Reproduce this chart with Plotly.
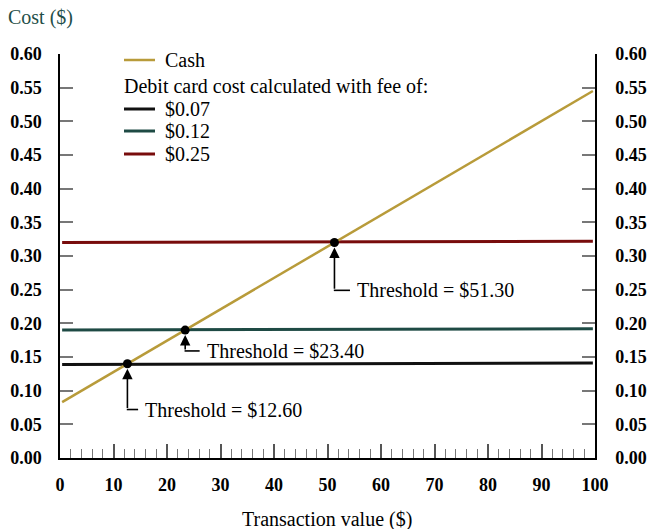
import plotly.graph_objects as go

# ---------------- data ----------------
line_x = [0.4, 99.6]
cash_cost = [0.083, 0.545]
debit_fee_labels = ["$0.07", "$0.12", "$0.25"]
debit_cost_007 = [0.139, 0.141]
debit_cost_012 = [0.190, 0.192]
debit_cost_025 = [0.320, 0.322]
threshold_x = [12.6, 23.4, 51.3]
threshold_y = [0.14, 0.19, 0.32]
threshold_labels = ["Threshold = $12.60", "Threshold = $23.40", "Threshold = $51.30"]
y_ticks = [0.0, 0.05, 0.10, 0.15, 0.20, 0.25, 0.30, 0.35, 0.40, 0.45, 0.50, 0.55, 0.60]
y_tick_text = ["0.00", "0.05", "0.10", "0.15", "0.20", "0.25", "0.30", "0.35", "0.40", "0.45", "0.50", "0.55", "0.60"]
x_ticks = [0, 10, 20, 30, 40, 50, 60, 70, 80, 90, 100]

# ---------------- style ----------------
W, H = 648, 529
ML, MR, MT, MB = 60, 53, 54, 71
FONT = "Liberation Serif"
C_CASH = "#b89b3a"
C_007 = "#111111"
C_012 = "#1e4a44"
C_025 = "#780c0c"
C_TITLE = "#1f4f49"
TXT = 20

def px_x(p):
    return (p - ML) / (W - ML - MR)

def px_y(p):
    return (H - MB - p) / (H - MT - MB)

fig = go.Figure()

debit_series = [debit_cost_007, debit_cost_012, debit_cost_025]
debit_colors = [C_007, C_012, C_025]
for lab, ys, col in zip(debit_fee_labels, debit_series, debit_colors):
    fig.add_trace(go.Scatter(x=line_x, y=ys, mode="lines", name=lab,
                             line=dict(color=col, width=3), showlegend=False))
fig.add_trace(go.Scatter(x=line_x, y=cash_cost, mode="lines", name="Cash",
                         line=dict(color=C_CASH, width=2.5), showlegend=False))
fig.add_trace(go.Scatter(x=threshold_x, y=threshold_y, mode="markers",
                         marker=dict(color="black", size=9), showlegend=False))
# invisible trace to activate right axis
fig.add_trace(go.Scatter(x=line_x, y=cash_cost, yaxis="y2", mode="lines",
                         line=dict(width=0), opacity=0, showlegend=False, hoverinfo="skip"))

# threshold annotation geometry (offsets, in data units)
arrow_drop = [0.068, 0.031, 0.071]
elbow_dx = [2.0, 2.7, 2.9]
text_gap = 1.0
for tx, ty, lab, dy, dx in zip(threshold_x, threshold_y, threshold_labels, arrow_drop, elbow_dx):
    low = ty - dy
    fig.add_annotation(x=tx, y=ty, ax=tx, ay=low, xref="x", yref="y", axref="x", ayref="y",
                       showarrow=True, arrowhead=2, arrowsize=1.3, arrowwidth=1.6,
                       arrowcolor="black", standoff=5, text="")
    fig.add_shape(type="line", xref="x", yref="y", x0=tx - 0.12, x1=tx + dx, y0=low, y1=low,
                  line=dict(color="black", width=1.6))
    fig.add_annotation(x=tx + dx + text_gap, y=low, xref="x", yref="y", text=lab,
                       showarrow=False, xanchor="left", yanchor="middle",
                       font=dict(family=FONT, size=TXT, color="black"))

# manual legend
legend_rows = [("Cash", C_CASH, 60), (None, None, 86),
               (debit_fee_labels[0], C_007, 109), (debit_fee_labels[1], C_012, 131),
               (debit_fee_labels[2], C_025, 154)]
for lab, col, py in legend_rows:
    if lab is None:
        fig.add_annotation(x=px_x(122), y=px_y(py), xref="paper", yref="paper",
                           text="Debit card cost calculated with fee of:", showarrow=False,
                           xanchor="left", yanchor="middle",
                           font=dict(family=FONT, size=TXT, color="black"))
        continue
    fig.add_shape(type="line", xref="paper", yref="paper", x0=px_x(124), x1=px_x(155),
                  y0=px_y(py), y1=px_y(py), line=dict(color=col, width=3 if col != C_CASH else 2.5))
    fig.add_annotation(x=px_x(163), y=px_y(py), xref="paper", yref="paper", text=lab,
                       showarrow=False, xanchor="left", yanchor="middle",
                       font=dict(family=FONT, size=TXT, color="black"))

# axis titles
fig.add_annotation(x=px_x(6), y=px_y(18), xref="paper", yref="paper", text="Cost ($)",
                   showarrow=False, xanchor="left", yanchor="middle",
                   font=dict(family=FONT, size=TXT, color=C_TITLE))
fig.add_annotation(x=px_x(327), y=px_y(519), xref="paper", yref="paper",
                   text="Transaction value ($)", showarrow=False, xanchor="center", yanchor="middle",
                   font=dict(family=FONT, size=TXT, color="black"))

tickfont = dict(family=FONT, size=18, color="black", weight="bold")
yax_common = dict(range=[0, 0.6], tickvals=y_ticks, ticktext=y_tick_text, ticks="inside",
                  ticklen=13, tickwidth=1.5, tickcolor="#777777", showline=True,
                  linecolor="black", linewidth=1.5, showgrid=False, zeroline=False,
                  tickfont=tickfont, fixedrange=True, automargin=False)

fig.update_layout(
    width=W, height=H,
    margin=dict(l=ML, r=MR, t=MT, b=MB, pad=0, autoexpand=False),
    paper_bgcolor="white", plot_bgcolor="white",
    showlegend=False,
    font=dict(family=FONT, color="black"),
    xaxis=dict(range=[0, 100], tickvals=x_ticks, ticks="inside", ticklen=14, tickwidth=1.5,
               tickcolor="#555555", showline=True, linecolor="black", linewidth=1.5,
               showgrid=False, zeroline=False, tickfont=tickfont, ticklabelstandoff=10,
               automargin=False, fixedrange=True,
               minor=dict(dtick=2, ticks="inside", ticklen=9, tickwidth=1.2,
                          tickcolor="#777777", showgrid=False)),
    yaxis=dict(side="left", ticklabelstandoff=13, **yax_common),
    yaxis2=dict(side="right", overlaying="y", ticklabelstandoff=15, **yax_common),
)

fig.write_html("out.html", config={"displayModeBar": False},
               post_script="document.body.style.margin='0';")
